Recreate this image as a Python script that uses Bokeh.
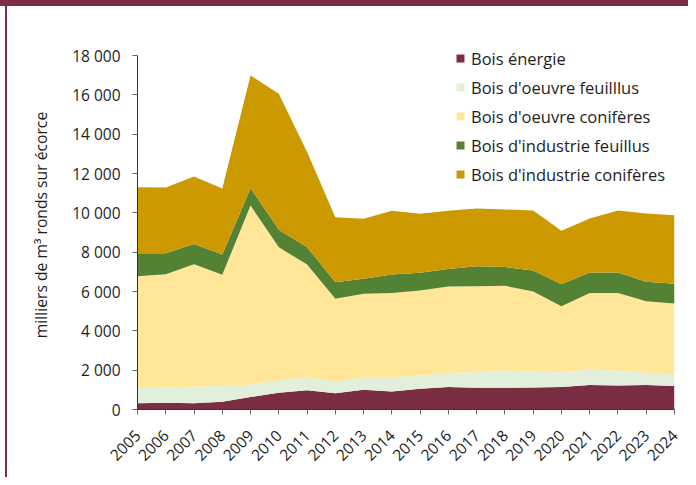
import math
from bokeh.plotting import figure
from bokeh.models import ColumnDataSource, Range1d, FixedTicker, Legend, LegendItem
from bokeh.embed import file_html
from bokeh.resources import INLINE

years = list(range(2005, 2025))
year_labels = [str(y) for y in years]

bois_energie = [320, 340, 320, 390, 630, 850, 980, 830, 1000, 920, 1050, 1140, 1100, 1100, 1120, 1150, 1250, 1220, 1240, 1190]
bois_oeuvre_feuillus = [760, 780, 850, 800, 640, 630, 650, 590, 630, 720, 680, 730, 800, 880, 810, 730, 780, 760, 630, 590]
bois_oeuvre_coniferes = [5700, 5760, 6220, 5660, 9100, 6770, 5740, 4210, 4250, 4290, 4320, 4390, 4370, 4310, 4070, 3370, 3900, 3950, 3640, 3610]
bois_industrie_feuillus = [1170, 1070, 1020, 1030, 880, 890, 880, 840, 770, 940, 900, 890, 1020, 950, 1070, 1120, 1040, 1040, 980, 1000]
bois_industrie_coniferes = [3350, 3340, 3440, 3360, 5730, 6910, 4840, 3310, 3050, 3230, 3000, 2950, 2930, 2930, 3050, 2720, 2740, 3150, 3480, 3490]

series_keys = ["energie", "oeuvre_feuillus", "oeuvre_coniferes", "industrie_feuillus", "industrie_coniferes"]
series_labels = ["Bois énergie", "Bois d'oeuvre feuilllus", "Bois d'oeuvre conifères",
                 "Bois d'industrie feuillus", "Bois d'industrie conifères"]
colors = ["#7B2D43", "#E2EFDA", "#FFE699", "#548235", "#CC9900"]

y_ticks = [0, 2000, 4000, 6000, 8000, 10000, 12000, 14000, 16000, 18000]
y_tick_labels = ["0", "2 000", "4 000", "6 000", "8 000", "10 000", "12 000", "14 000", "16 000", "18 000"]
y_axis_title = "milliers de m³ ronds sur écorce"

source = ColumnDataSource(dict(
    year=years,
    energie=bois_energie,
    oeuvre_feuillus=bois_oeuvre_feuillus,
    oeuvre_coniferes=bois_oeuvre_coniferes,
    industrie_feuillus=bois_industrie_feuillus,
    industrie_coniferes=bois_industrie_coniferes,
))

FONT = "Open Sans"
TXT = "#1e1e1e"
FRAME = "#7B2D43"

# frame: 354 px for 0..18000, extended 15 px above so the legend is not clipped
Y_MAX = y_ticks[-1]
FRAME_PX = 354
EXTRA_PX = 15
y_end = Y_MAX * (FRAME_PX + EXTRA_PX) / FRAME_PX

p = figure(width=688, height=477, output_backend="svg", toolbar_location=None,
           x_range=Range1d(years[0], years[-1]), y_range=Range1d(0, y_end),
           min_border_left=137, min_border_right=14, min_border_top=55 - EXTRA_PX, min_border_bottom=68,
           styles={"background": (f"linear-gradient({FRAME},{FRAME}) 0 0/100% 6px no-repeat, "
                                  f"linear-gradient({FRAME},{FRAME}) 5px 0/2px 100% no-repeat, white")})
p.outline_line_color = None
p.xgrid.grid_line_color = None
p.ygrid.grid_line_color = None
p.background_fill_color = "white"
p.border_fill_color = None
p.border_fill_alpha = 0

renderers = p.varea_stack(series_keys, x="year", source=source, color=colors)

# axes
p.yaxis.ticker = FixedTicker(ticks=y_ticks)
p.yaxis.major_label_overrides = {t: l for t, l in zip(y_ticks, y_tick_labels)}
p.yaxis.bounds = (0, Y_MAX)
p.xaxis.ticker = FixedTicker(ticks=years)
p.xaxis.major_label_overrides = {y: l for y, l in zip(years, year_labels)}
p.xaxis.major_label_orientation = math.pi / 4
for ax in (p.xaxis, p.yaxis):
    ax.axis_line_color = "#333333"
    ax.major_tick_line_color = "#666666"
    ax.major_tick_out = 5
    ax.major_tick_in = 0
    ax.minor_tick_line_color = None
    ax.major_label_text_font = FONT
    ax.major_label_text_font_size = "15.5px"
    ax.major_label_text_color = TXT
p.yaxis.major_label_standoff = 12
p.xaxis.major_label_standoff = 18
p.yaxis.axis_label = y_axis_title
p.yaxis.axis_label_text_font = FONT
p.yaxis.axis_label_text_font_size = "15.7px"
p.yaxis.axis_label_text_font_style = "normal"
p.yaxis.axis_label_text_color = TXT
p.yaxis.axis_label_standoff = 17

legend = Legend(items=[LegendItem(label=l, renderers=[r]) for l, r in zip(series_labels, renderers)],
                location=(318, 223), padding=0, margin=0, spacing=5,
                label_height=24, glyph_height=10, glyph_width=10, label_standoff=6,
                border_line_color=None, background_fill_alpha=0,
                label_text_font=FONT, label_text_font_size="16.5px", label_text_color=TXT)
p.add_layout(legend)

open("out.html", "w").write(file_html(p, INLINE))
